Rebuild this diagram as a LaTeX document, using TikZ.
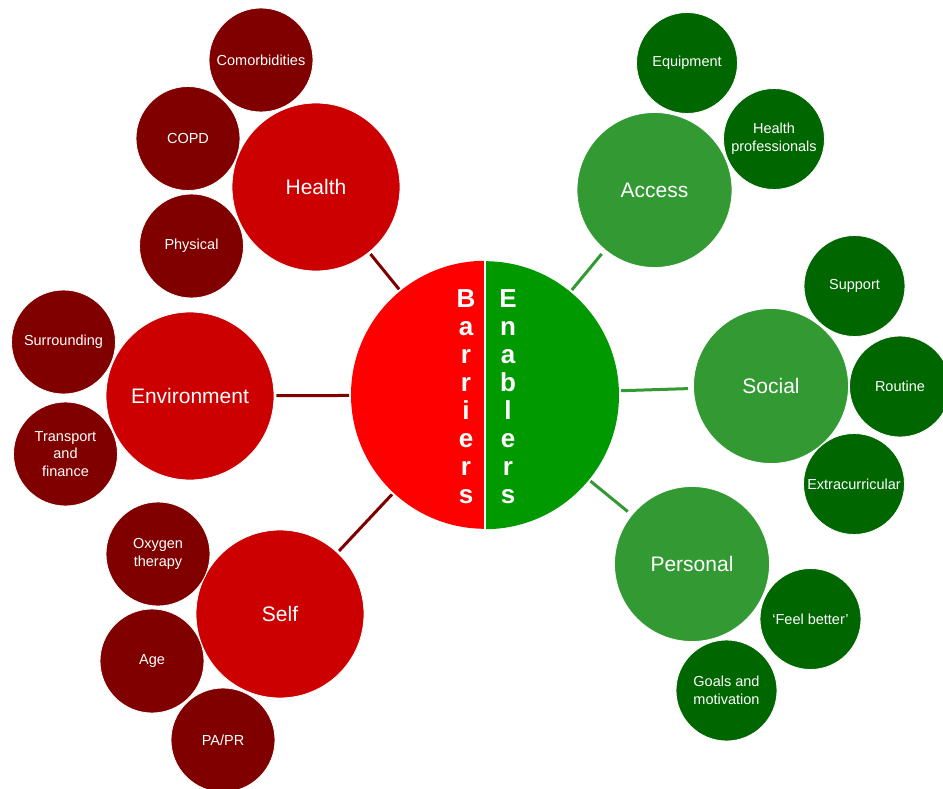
\documentclass[tikz,border=0pt]{standalone}
\usepackage{fontspec}
\setmainfont{Liberation Sans}
\definecolor{corered}{HTML}{FF0000}
\definecolor{coregreen}{HTML}{009900}
\definecolor{midred}{HTML}{CC0000}
\definecolor{smallred}{HTML}{800000}
\definecolor{midgreen}{HTML}{339933}
\definecolor{smallgreen}{HTML}{006600}
\definecolor{linered}{HTML}{7F0000}
\definecolor{linegreen}{HTML}{339933}
\tikzset{
  bub/.style={circle, inner sep=0pt, align=center, text=white, draw=white, line width=0.8pt},
  midr/.style={bub, fill=midred, minimum size=168pt, font=\fontsize{21}{25}\selectfont},
  smr/.style={bub, fill=smallred, minimum size=104pt, font=\fontsize{14.5}{17.5}\selectfont},
  midg/.style={bub, fill=midgreen, minimum size=155pt, font=\fontsize{21}{25}\selectfont},
  smg/.style={bub, fill=smallgreen, minimum size=101pt, font=\fontsize{14.5}{17.5}\selectfont},
  conr/.style={draw=linered, line width=3pt, shorten <=2pt, shorten >=2pt},
  cong/.style={draw=linegreen, line width=3pt, shorten <=2pt, shorten >=5pt},
  corelbl/.style={text=white, align=center, inner sep=0pt, font=\fontsize{26}{28}\selectfont\bfseries}
}
\begin{document}
\begin{tikzpicture}[x=1pt,y=-1pt]
\useasboundingbox (0,0) rectangle (943,789);
% core
\node[circle, minimum size=268pt, inner sep=0pt] (core) at (485,395) {};
\fill[corered] (core.north) arc[start angle=90, end angle=270, radius=134pt] -- cycle;
\fill[coregreen] (core.south) arc[start angle=-90, end angle=90, radius=134pt] -- cycle;
\draw[white, line width=2pt] (core.north) -- (core.south);
\node[corelbl] (barr) at (466,397) {B\\a\\r\\r\\i\\e\\r\\s};
\node[corelbl] (enab) at (508,397) {E\\n\\a\\b\\l\\e\\r\\s};
% mid circles
\node[midr] (health) at (316,187) {Health};
\node[midr] (env) at (190,396) {Environment};
\node[midr] (self) at (280,614) {Self};
\node[midg] (access) at (654.5,190) {Access};
\node[midg] (social) at (771,386) {Social};
\node[midg] (personal) at (692,564) {Personal};
% connectors
\draw[conr] (health) -- (core);
\draw[conr] (env) -- (core);
\draw[conr] (self) -- (core);
\draw[cong] (core) -- (access);
\draw[cong] (core) -- (social);
\draw[cong] (core) -- (personal);
% small red
\node[smr] (comor) at (261,60) {Comorbidities};
\node[smr] (copd) at (188,138.5) {COPD};
\node[smr] (phys) at (191.5,246) {Physical};
\node[smr] (surr) at (63.5,342) {Surrounding};
\node[smr] (trans) at (65.5,454) {Transport\\and\\finance};
\node[smr] (oxy) at (158,554) {Oxygen\\therapy};
\node[smr] (age) at (152,661) {Age};
\node[smr] (papr) at (223,740) {PA/PR};
% small green
\node[smg] (equip) at (687,63) {Equipment};
\node[smg] (hprof) at (774,139) {Health\\professionals};
\node[smg] (support) at (854.5,286) {Support};
\node[smg] (routine) at (900,386.5) {Routine};
\node[smg] (extra) at (854,484) {Extracurricular};
\node[smg] (feel) at (810.5,619) {‘Feel better’};
\node[smg] (goals) at (726.5,690.5) {Goals and\\motivation};
\end{tikzpicture}
\end{document}
